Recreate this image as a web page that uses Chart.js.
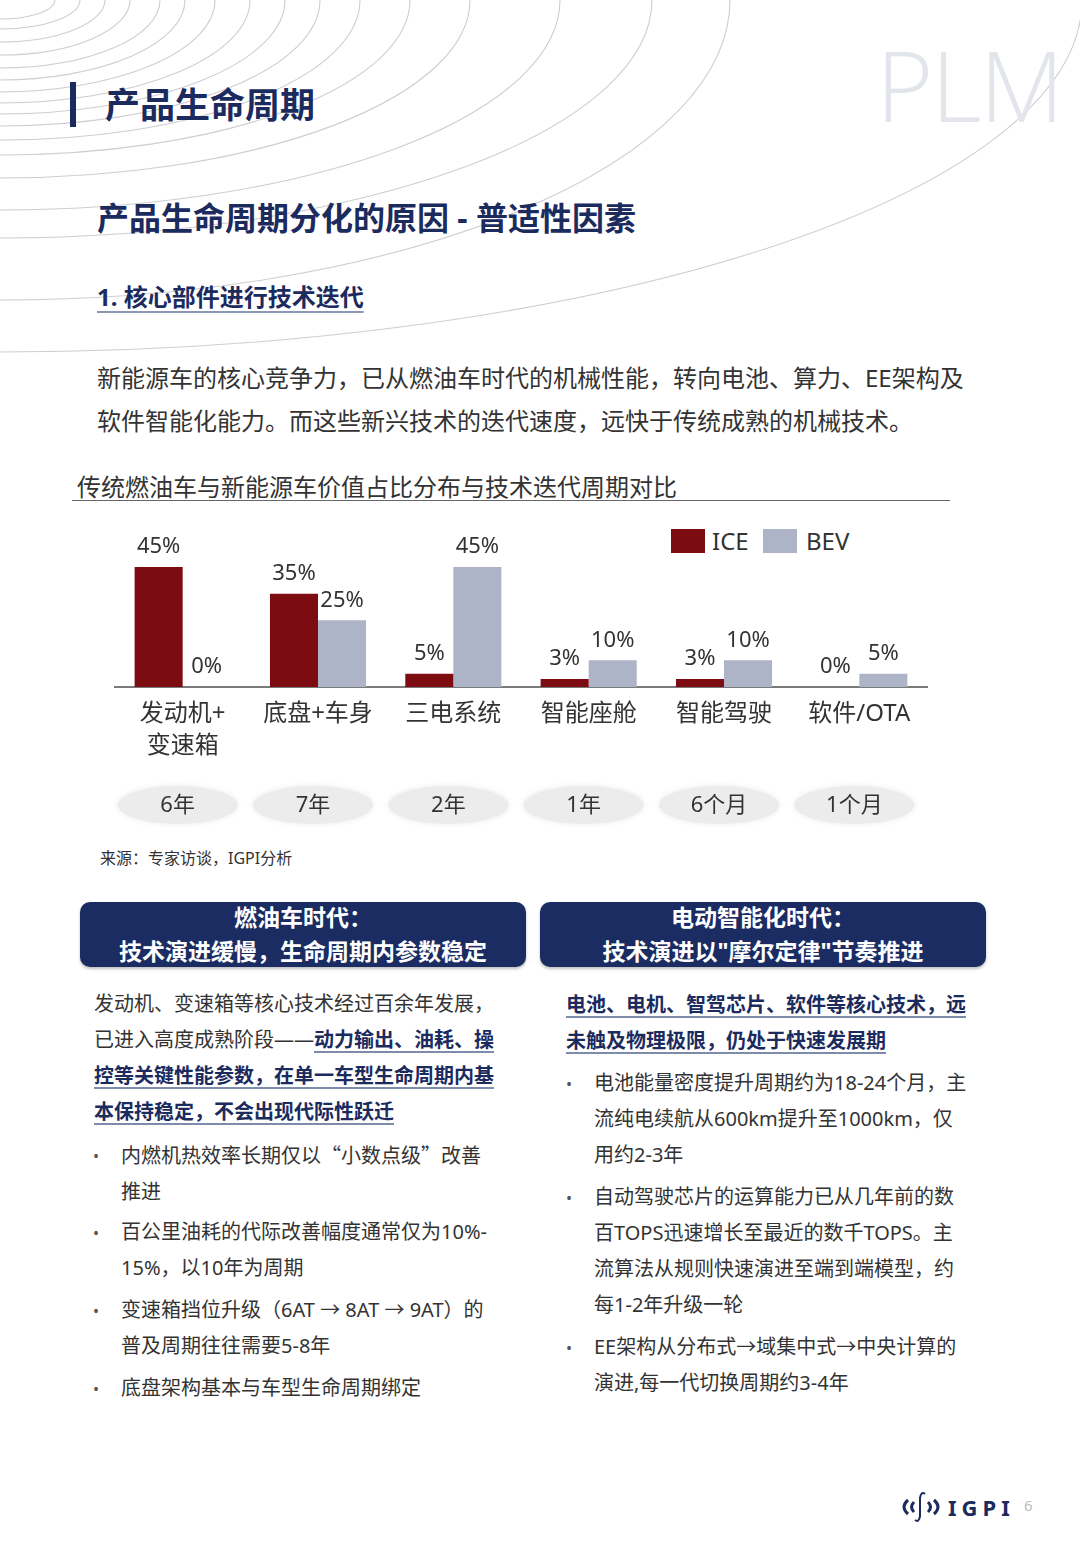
<!DOCTYPE html>
<html>
<head>
<meta charset="utf-8">
<script src="https://cdn.jsdelivr.net/npm/chart.js@4.4.1/dist/chart.umd.min.js"></script>
<style>
  html, body { margin: 0; padding: 0; background: #fff; }
  body { width: 1080px; height: 1559px; position: relative; overflow: hidden;
         font-family: "Noto Sans", "Noto Sans CJK SC", sans-serif; color: #333; }
  .abs { position: absolute; white-space: nowrap; }
  .navy { color: #1c2b5e; }
  .cjk { font-family: "Noto Sans CJK SC", sans-serif; }
  .hl { color: #1c2b5e; font-weight: bold; text-decoration: underline;
        text-decoration-color: #7f8bab; text-underline-offset: 4px; text-decoration-thickness: 2px; }
  .col { font-size: 20px; line-height: 36px; }
  .dot { position: absolute; font-size: 16px; color: #555; }
  .box { position: absolute; top: 902px; height: 65px; width: 446px; border-radius: 10px;
         background: #1b2c63; box-shadow: 0 2px 3px rgba(0,0,0,0.25); }
  .boxline { position: absolute; width: 446px; text-align: center; color: #fff; font-weight: bold;
             font-size: 23px; line-height: 34px; }
  #chartWrap { position: absolute; left: 60px; top: 515px; width: 900px; height: 330px; }
</style>
</head>
<body>

<svg class="abs" style="left:0;top:0" width="1080" height="380" viewBox="0 0 1080 380">
  <g fill="none" stroke="#cdced4" stroke-width="1.1">
    <ellipse cx="0" cy="0" rx="1082" ry="352"/>
    <ellipse cx="0" cy="0" rx="730" ry="300"/>
    <ellipse cx="0" cy="0" rx="652" ry="238"/>
    <ellipse cx="0" cy="0" rx="560" ry="210"/>
    <ellipse cx="0" cy="0" rx="470" ry="178"/>
    <ellipse cx="0" cy="0" rx="410" ry="155"/>
    <ellipse cx="0" cy="0" rx="360" ry="140"/>
    <ellipse cx="0" cy="0" rx="320" ry="126"/>
    <ellipse cx="0" cy="0" rx="285" ry="114"/>
    <ellipse cx="0" cy="0" rx="250" ry="103"/>
    <ellipse cx="0" cy="0" rx="215" ry="92"/>
    <ellipse cx="0" cy="0" rx="185" ry="80"/>
    <ellipse cx="0" cy="0" rx="160" ry="68"/>
    <ellipse cx="0" cy="0" rx="130" ry="55"/>
    <ellipse cx="0" cy="0" rx="105" ry="42"/>
    <ellipse cx="0" cy="0" rx="80" ry="29"/>
    <ellipse cx="0" cy="0" rx="55" ry="19"/>
  </g>
</svg>

<div class="abs" style="left:876px;top:22px;font-family:'Open Sans','Lato',sans-serif;font-weight:300;font-size:98px;line-height:124px;color:#e3e5ec;letter-spacing:-2px;">PLM</div>

<div class="abs" style="left:70px;top:82px;width:6px;height:45px;background:#1c2b5e;"></div>
<div class="abs navy" style="left:105px;top:83px;font-size:35px;line-height:44px;font-weight:bold;">产品生命周期</div>

<div class="abs navy" style="left:97px;top:198px;font-size:32px;line-height:40px;font-weight:bold;">产品生命周期分化的原因 - 普适性因素</div>

<div class="abs navy" style="left:97px;top:282px;font-size:24px;line-height:30px;font-weight:bold;text-decoration:underline;text-decoration-color:#8d97b5;text-underline-offset:5px;text-decoration-thickness:2px;">1. 核心部件进行技术迭代</div>

<div class="abs" style="left:97px;top:356px;font-size:24px;line-height:43px;color:#333;">新能源车的核心竞争力，已从燃油车时代的机械性能，转向电池、算力、EE架构及<br>软件智能化能力。而这些新兴技术的迭代速度，远快于传统成熟的机械技术。</div>

<div class="abs" style="left:77px;top:472px;font-size:24px;line-height:30px;color:#333;">传统燃油车与新能源车价值占比分布与技术迭代周期对比</div>
<div class="abs" style="left:72px;top:500px;width:878px;height:1px;background:#666;"></div>

<div class="abs" style="left:671px;top:529px;width:34px;height:24px;background:#7d0c12;"></div>
<div class="abs" style="left:712px;top:526px;font-size:24px;line-height:30px;color:#333;">ICE</div>
<div class="abs" style="left:763px;top:529px;width:34px;height:24px;background:#aeb4c7;"></div>
<div class="abs" style="left:806px;top:526px;font-size:24px;line-height:30px;color:#333;">BEV</div>

<div id="chartWrap"><canvas id="myChart"></canvas></div>

<div class="abs" style="left:100px;top:848px;font-size:16px;line-height:20px;color:#333;">来源：专家访谈，IGPI分析</div>

<div class="box" style="left:80px;">
  <div class="boxline" style="left:0;top:-2px;">燃油车时代：</div>
  <div class="boxline" style="left:0;top:32px;">技术演进缓慢，生命周期内参数稳定</div>
</div>
<div class="box" style="left:540px;">
  <div class="boxline" style="left:0;top:-2px;">电动智能化时代：</div>
  <div class="boxline" style="left:0;top:32px;">技术演进以"摩尔定律"节奏推进</div>
</div>

<div class="abs col" style="left:94px;top:986px;">发动机、变速箱等核心技术经过百余年发展，<br>已进入高度成熟阶段——<span class="hl">动力输出、油耗、操</span><br><span class="hl">控等关键性能参数，在单一车型生命周期内基</span><br><span class="hl">本保持稳定，不会出现代际性跃迁</span></div>

<div class="dot" style="left:93px;top:1145px;">•</div>
<div class="abs col" style="left:121px;top:1137px;">内燃机热效率长期仅以<span class="cjk">“</span>小数点级<span class="cjk">”</span>改善<br>推进</div>
<div class="dot" style="left:93px;top:1222px;">•</div>
<div class="abs col" style="left:121px;top:1214px;">百公里油耗的代际改善幅度通常仅为10%-<br>15%，以10年为周期</div>
<div class="dot" style="left:93px;top:1300px;">•</div>
<div class="abs col" style="left:121px;top:1292px;">变速箱挡位升级（6AT → 8AT → 9AT）的<br>普及周期往往需要5-8年</div>
<div class="dot" style="left:93px;top:1378px;">•</div>
<div class="abs col" style="left:121px;top:1370px;">底盘架构基本与车型生命周期绑定</div>

<div class="abs col" style="left:566px;top:987px;"><span class="hl">电池、电机、智驾芯片、软件等核心技术，远</span><br><span class="hl">未触及物理极限，仍处于快速发展期</span></div>

<div class="dot" style="left:566px;top:1073px;">•</div>
<div class="abs col" style="left:594px;top:1065px;">电池能量密度提升周期约为18-24个月，主<br>流纯电续航从600km提升至1000km，仅<br>用约2-3年</div>
<div class="dot" style="left:566px;top:1187px;">•</div>
<div class="abs col" style="left:594px;top:1179px;">自动驾驶芯片的运算能力已从几年前的数<br>百TOPS迅速增长至最近的数千TOPS。主<br>流算法从规则快速演进至端到端模型，约<br>每1-2年升级一轮</div>
<div class="dot" style="left:566px;top:1337px;">•</div>
<div class="abs col" style="left:594px;top:1329px;">EE架构从分布式→域集中式→中央计算的<br>演进,每一代切换周期约3-4年</div>

<svg class="abs" style="left:898px;top:1490px" width="46" height="34" viewBox="0 0 46 34">
  <g fill="none" stroke="#1c2b5e" stroke-width="3">
    <path d="M10 10 Q2 17 10 24"/>
    <path d="M36 10 Q44 17 36 24"/>
    <path d="M16 12 Q11 17 16 22"/>
    <path d="M30 12 Q35 17 30 22"/>
  </g>
  <path d="M27 4 Q23 1 22 8 L22 26 Q21 33 17 30" fill="none" stroke="#1c2b5e" stroke-width="2"/>
</svg>
<div class="abs navy" style="left:948px;top:1493px;font-size:22px;line-height:28px;font-weight:bold;letter-spacing:5px;">IGPI</div>
<div class="abs" style="left:1024px;top:1495px;font-size:15px;line-height:20px;color:#bbb;">6</div>

<script>
const categories = [['发动机+', '变速箱'], '底盘+车身', '三电系统', '智能座舱', '智能驾驶', '软件/OTA'];
const seriesNames = ['ICE', 'BEV'];
const iceValues = [45, 35, 5, 3, 3, 0];
const bevValues = [0, 25, 45, 10, 10, 5];
const cycleLabels = ['6年', '7年', '2年', '1年', '6个月', '1个月'];

Chart.defaults.font.family = '"Noto Sans", "Noto Sans CJK SC", sans-serif';
Chart.defaults.color = '#333';

// percentage labels above each bar
const barLabels = {
    id: 'barLabels',
    afterDatasetsDraw(chart) {
        const ctx = chart.ctx;
        ctx.save();
        ctx.font = '22px "Noto Sans", "Noto Sans CJK SC", sans-serif';
        ctx.fillStyle = '#333';
        ctx.textAlign = 'center';
        ctx.textBaseline = 'middle';
        chart.data.datasets.forEach((ds, i) => {
            chart.getDatasetMeta(i).data.forEach((bar, j) => {
                ctx.fillText(ds.data[j] + '%', bar.x, bar.y - 20);
            });
        });
        ctx.restore();
    }
};

// iteration cycle pills under the axis labels
const cyclePills = {
    id: 'cyclePills',
    afterDraw(chart) {
        const ctx = chart.ctx;
        const xs = chart.scales.x;
        const y = chart.chartArea.bottom + 118;
        ctx.save();
        for (let i = 0; i < cycleLabels.length; i++) {
            let x = xs.getPixelForValue(i) - 5;
            ctx.fillStyle = '#ececec';
            ctx.shadowColor = '#ececec';
            ctx.shadowBlur = 6;
            ctx.beginPath();
            ctx.ellipse(x, y, 60, 19, 0, 0, Math.PI * 2);
            ctx.fill();
            ctx.shadowBlur = 0;
            ctx.fillStyle = '#333';
            ctx.font = '22px "Noto Sans", "Noto Sans CJK SC", sans-serif';
            ctx.textAlign = 'center';
            ctx.textBaseline = 'middle';
            ctx.fillText(cycleLabels[i], x, y + 1);
        }
        ctx.restore();
    }
};

let ctxChart = document.getElementById('myChart').getContext('2d');
const data = {
    labels: categories,
    datasets: [{
        label: seriesNames[0],
        data: iceValues,
        backgroundColor: '#7d0c12',
        categoryPercentage: 0.71,
        barPercentage: 1
    }, {
        label: seriesNames[1],
        data: bevValues,
        backgroundColor: '#aeb4c7',
        categoryPercentage: 0.71,
        barPercentage: 1
    }]
};
const config = {
    type: 'bar',
    data: data,
    options: {
        responsive: true,
        maintainAspectRatio: false,
        animation: false,
        layout: { padding: { left: 55, right: 33, top: 52, bottom: 0 } },
        plugins: { legend: { display: false }, tooltip: { enabled: false } },
        scales: {
            y: { display: false, min: 0, max: 45 },
            x: {
                grid: { display: false },
                border: { display: true, color: '#7a7a7a', width: 2 },
                ticks: { color: '#333', padding: 4, font: { size: 24, lineHeight: 1.3 } },
                afterFit: function (axis) { axis.height = 158; }
            }
        }
    },
    plugins: [barLabels, cyclePills]
};
const myChart = new Chart(ctxChart, config);
</script>
</body>
</html>
